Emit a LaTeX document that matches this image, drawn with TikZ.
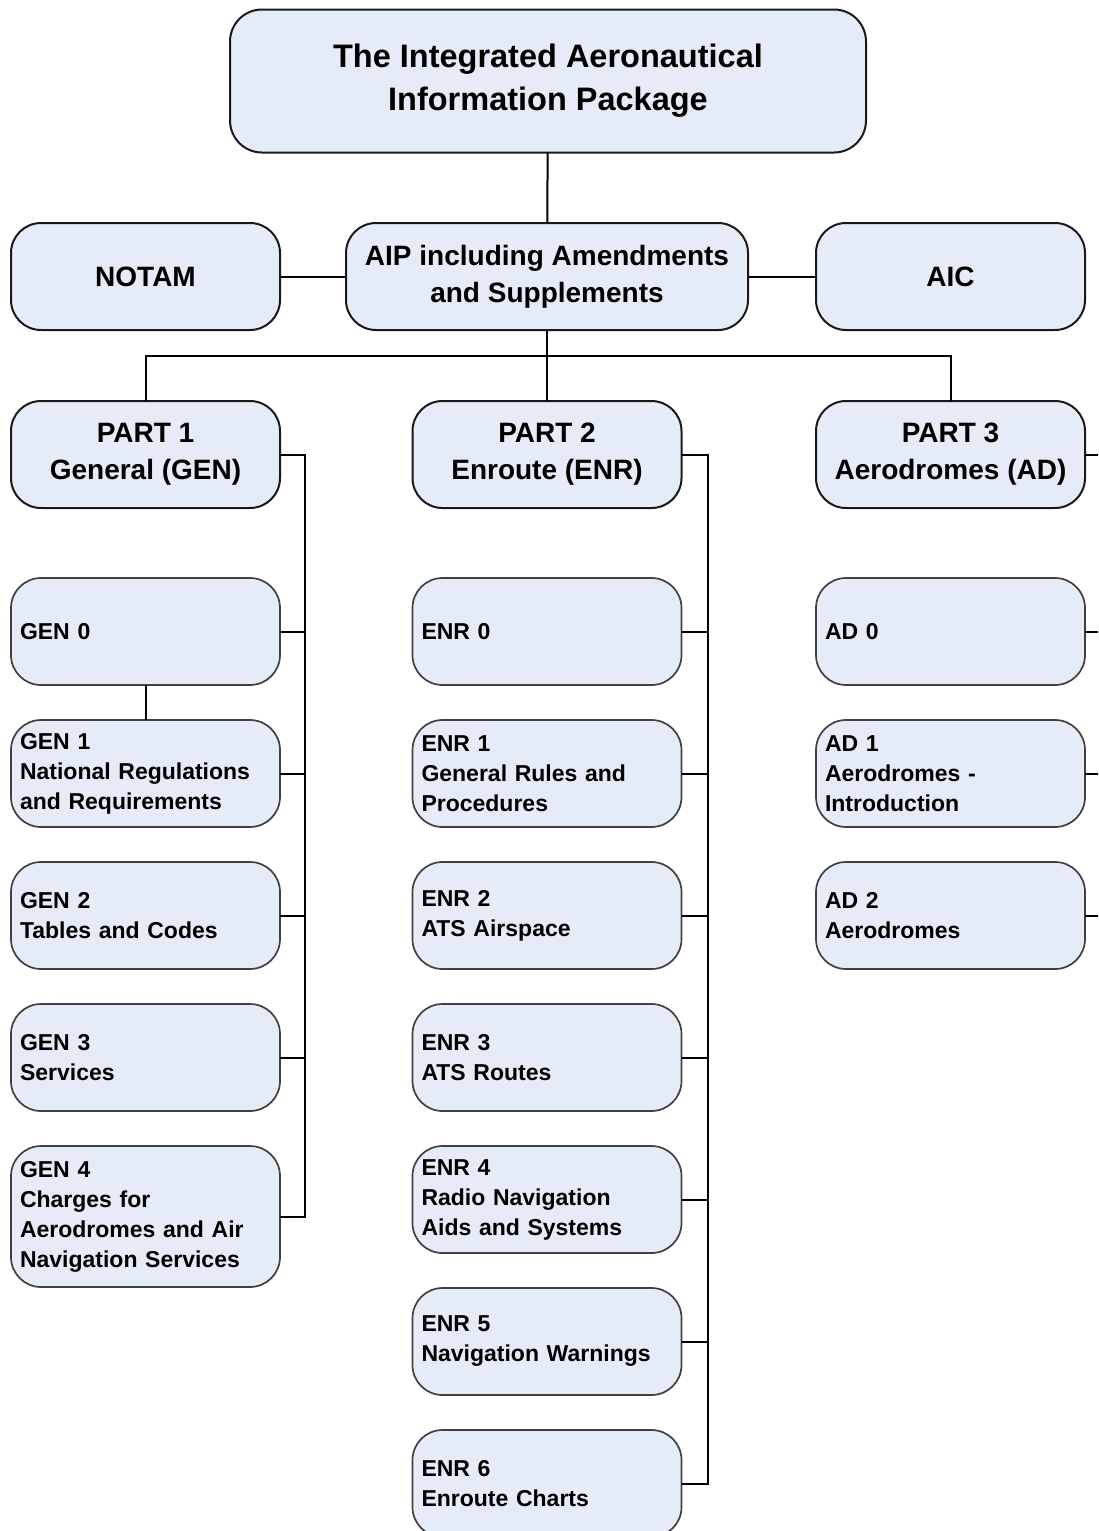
\documentclass[tikz,border=0pt]{standalone}
\usepackage{fontspec}
\setmainfont{Liberation Sans}
\usepackage{xcolor}
\usepackage{tikz}
\usetikzlibrary{positioning}
\definecolor{boxfill}{RGB}{230,236,247}
\tikzset{
  topbox/.style={rectangle, rounded corners=32pt, draw=black!90, line width=2pt, outer sep=0pt, fill=boxfill, minimum width=636pt, minimum height=143pt, align=center, font=\fontsize{32.5}{43}\selectfont\bfseries},
  mainbox/.style={rectangle, rounded corners=30pt, draw=black!90, line width=2pt, outer sep=0pt, fill=boxfill, minimum width=269pt, minimum height=107pt, inner sep=0pt, align=center, font=\fontsize{28}{37}\selectfont\bfseries},
  subbox/.style={rectangle, rounded corners=30pt, draw=black!75, line width=1.7pt, outer sep=0pt, fill=boxfill, text width=251pt, inner xsep=9pt, inner ysep=0pt, minimum height=107pt, align=left, font=\fontsize{23}{30}\selectfont\bfseries},
  link/.style={line width=2pt, draw=black}
}

\begin{document}
\begin{tikzpicture}[x=1pt, y=-1pt]

\clip (0,0) rectangle (1098,1531);

% Top level
\node (top) [topbox] at (548,81) {The Integrated Aeronautical\\Information Package};
\node (aip) [mainbox, minimum width=402pt] at (547,276.5) {AIP including Amendments\\and Supplements};
\node (notam) [mainbox, left=66pt of aip] {NOTAM};
\node (aic) [mainbox, right=68pt of aip] {AIC};

% Parts
\node (part1) [mainbox, below=71pt of notam] {PART 1\\General (GEN)};
\node (part2) [mainbox, below=71pt of aip, minimum width=269pt] {PART 2\\Enroute (ENR)};
\node (part3) [mainbox, below=71pt of aic] {PART 3\\Aerodromes (AD)};

% GEN sections
\node (gen0) [subbox, below=70pt of part1] {GEN 0};
\node (gen1) [subbox, below=35pt of gen0] {GEN 1\\National Regulations\\and Requirements};
\node (gen2) [subbox, below=35pt of gen1] {GEN 2\\Tables and Codes};
\node (gen3) [subbox, below=35pt of gen2] {GEN 3\\Services};
\node (gen4) [subbox, below=35pt of gen3, minimum height=141pt] {GEN 4\\Charges for\\Aerodromes and Air\\Navigation Services};

% ENR sections
\node (enr0) [subbox, below=70pt of part2] {ENR 0};
\node (enr1) [subbox, below=35pt of enr0] {ENR 1\\General Rules and\\Procedures};
\node (enr2) [subbox, below=35pt of enr1] {ENR 2\\ATS Airspace};
\node (enr3) [subbox, below=35pt of enr2] {ENR 3\\ATS Routes};
\node (enr4) [subbox, below=35pt of enr3] {ENR 4\\Radio Navigation\\Aids and Systems};
\node (enr5) [subbox, below=35pt of enr4] {ENR 5\\Navigation Warnings};
\node (enr6) [subbox, below=35pt of enr5] {ENR 6\\Enroute Charts};

% AD sections
\node (ad0) [subbox, below=70pt of part3] {AD 0};
\node (ad1) [subbox, below=35pt of ad0] {AD 1\\Aerodromes -\\Introduction};
\node (ad2) [subbox, below=35pt of ad1] {AD 2\\Aerodromes};

% Upper links
\coordinate (bus) at (547,356);
\draw [link] (top) -- (aip);
\draw [link] (notam) -- (aip);
\draw [link] (aip) -- (aic);
\draw [link] (aip) -- (part2);
\draw [link] (part1.north) |- (bus) -| (part3.north);

% Section buses
\coordinate [right=25pt of part1.east] (genbus);
\coordinate [right=26pt of part2.east] (enrbus);
\coordinate [right=26pt of part3.east] (adbus);

\draw [link] (part1.east) -- (genbus) |- (gen4.east);
\foreach \i in {0,...,3}
  \draw [link] (gen\i.east) -- (gen\i.east -| genbus);
\draw [link] (gen0) -- (gen1);

\draw [link] (part2.east) -- (enrbus) |- (enr6.east);
\foreach \i in {0,...,5}
  \draw [link] (enr\i.east) -- (enr\i.east -| enrbus);

\draw [link] (part3.east) -- (adbus) |- (ad2.east);
\foreach \i in {0,1}
  \draw [link] (ad\i.east) -- (ad\i.east -| adbus);

\end{tikzpicture}
\end{document}
